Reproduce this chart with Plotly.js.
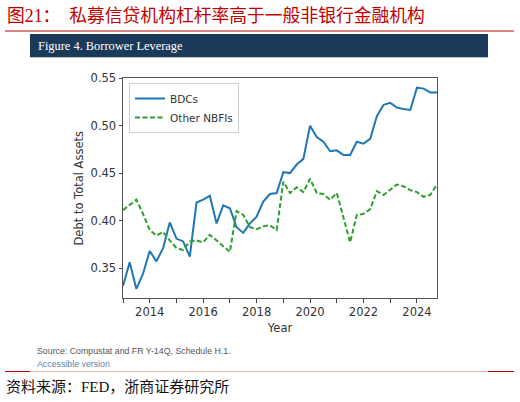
<!DOCTYPE html>
<html>
<head>
<meta charset="utf-8">
<script src="https://cdn.plot.ly/plotly-3.0.1.min.js"></script>
<style>
  html, body { margin: 0; padding: 0; background: #fff; }
  #chart { width: 520px; height: 402px; }
</style>
</head>
<body>
<div id="chart"></div>
<script>
// quarterly observations, decimal years
var quarters = [
  2013.00, 2013.25, 2013.50, 2013.75, 2014.00, 2014.25, 2014.50, 2014.75,
  2015.00, 2015.25, 2015.50, 2015.75, 2016.00, 2016.25, 2016.50, 2016.75,
  2017.00, 2017.25, 2017.50, 2017.75, 2018.00, 2018.25, 2018.50, 2018.75,
  2019.00, 2019.25, 2019.50, 2019.75, 2020.00, 2020.25, 2020.50, 2020.75,
  2021.00, 2021.25, 2021.50, 2021.75, 2022.00, 2022.25, 2022.50, 2022.75,
  2023.00, 2023.25, 2023.50, 2023.75, 2024.00, 2024.25, 2024.50, 2024.75
];

var bdcs = [
  0.331, 0.356, 0.328, 0.344, 0.368, 0.357, 0.371, 0.398,
  0.381, 0.378, 0.362, 0.419, 0.422, 0.426, 0.397, 0.416,
  0.413, 0.393, 0.387, 0.397, 0.404, 0.420, 0.428, 0.429,
  0.451, 0.450, 0.459, 0.465, 0.500, 0.488, 0.483, 0.473,
  0.474, 0.469, 0.469, 0.483, 0.481, 0.486, 0.510, 0.522,
  0.524, 0.519, 0.5175, 0.5165, 0.540, 0.539, 0.535, 0.535
];

var otherNbfis = [
  0.411, 0.417, 0.422, 0.407, 0.390, 0.384, 0.388, 0.379,
  0.371, 0.369, 0.378, 0.379, 0.377, 0.385, 0.379, 0.372,
  0.367, 0.410, 0.406, 0.393, 0.391, 0.394, 0.395, 0.390,
  0.441, 0.429, 0.435, 0.430, 0.444, 0.429, 0.428, 0.422,
  0.429, 0.403, 0.377, 0.406, 0.407, 0.412, 0.431, 0.427,
  0.433, 0.438, 0.436, 0.432, 0.430, 0.425, 0.427, 0.438
];

var yearTicks = [2014, 2016, 2018, 2020, 2022, 2024];
var yTicks = [0.35, 0.40, 0.45, 0.50, 0.55];

// plot box in pixels, used to place the decorations around it
var L = 123, R = 437, T = 78, B = 298;
function px(x) { return (x - L) / (R - L); }
function py(y) { return (B - y) / (B - T); }

var traces = [
  {
    x: quarters, y: bdcs, name: 'BDCs', mode: 'lines',
    line: { color: '#1f77b4', width: 2 }
  },
  {
    x: quarters, y: otherNbfis, name: 'Other NBFIs', mode: 'lines',
    line: { color: '#2ca02c', width: 2, dash: '5px,2.5px' }
  }
];

var tickFont = { family: 'DejaVu Sans', size: 11.5, color: '#333' };
var cjkSerif = 'Liberation Serif, Noto Sans CJK SC';

var layout = {
  width: 520, height: 402,
  margin: { l: L, r: 520 - R, t: T, b: 402 - B, pad: 0 },
  paper_bgcolor: '#fff', plot_bgcolor: '#fff',
  font: { family: 'DejaVu Sans', color: '#333' },
  showlegend: true,
  legend: {
    x: px(129), y: py(83), xanchor: 'left', yanchor: 'top',
    bgcolor: 'rgba(255,255,255,0.9)', bordercolor: '#d0d0d0', borderwidth: 1,
    font: { family: 'DejaVu Sans', size: 10.5, color: '#333' },
    tracegroupgap: 0
  },
  xaxis: {
    range: [2013, 2024.75],
    tickvals: yearTicks, ticktext: yearTicks.map(String),
    ticks: 'outside', ticklen: 3.5, tickcolor: '#444',
    minor: { dtick: 1, tick0: 2013, ticks: 'outside', ticklen: 3.5, tickcolor: '#444', showgrid: false },
    showgrid: false, zeroline: false,
    showline: true, mirror: true, linecolor: '#555', linewidth: 1,
    tickfont: tickFont,
    title: { text: 'Year', font: { family: 'DejaVu Sans', size: 11.5, color: '#333' }, standoff: 5 }
  },
  yaxis: {
    range: [0.3184, 0.5502],
    tickvals: yTicks, tickformat: '.2f',
    ticks: 'outside', ticklen: 3.5, tickcolor: '#444',
    showgrid: false, zeroline: false,
    showline: true, mirror: true, linecolor: '#555', linewidth: 1,
    tickfont: tickFont
  },
  shapes: [
    // red rule under the report title
    { type: 'line', xref: 'paper', yref: 'paper', x0: px(5), x1: px(514), y0: py(31), y1: py(31),
      line: { color: '#c00000', width: 1 } },
    // navy figure banner
    { type: 'rect', xref: 'paper', yref: 'paper', x0: px(30), x1: px(488), y0: py(57), y1: py(34),
      fillcolor: '#1b3a5a', line: { width: 0 } },
    { type: 'line', xref: 'paper', yref: 'paper', x0: px(30), x1: px(488), y0: py(57.5), y1: py(57.5),
      line: { color: '#b8c0c8', width: 1 } },
    // bottom rule
    { type: 'line', xref: 'paper', yref: 'paper', x0: px(30), x1: px(488), y0: py(371.5), y1: py(371.5),
      line: { color: '#f2b8b8', width: 1 } },
    { type: 'line', xref: 'paper', yref: 'paper', x0: px(5), x1: px(30), y0: py(371.5), y1: py(371.5),
      line: { color: '#c00000', width: 1 } },
    { type: 'line', xref: 'paper', yref: 'paper', x0: px(488), x1: px(514), y0: py(371.5), y1: py(371.5),
      line: { color: '#c00000', width: 1 } }
  ],
  annotations: [
    { text: 'Debt to Total Assets', xref: 'paper', yref: 'paper', textangle: -90,
      x: px(78.5), y: py(188), xanchor: 'center', yanchor: 'middle', showarrow: false,
      font: { family: 'DejaVu Sans', size: 11.5, color: '#333' } },
    { text: '图21：  私募信贷机构杠杆率高于一般非银行金融机构', xref: 'paper', yref: 'paper',
      x: px(5), y: py(16), xanchor: 'left', yanchor: 'middle', showarrow: false,
      font: { family: cjkSerif, size: 17.8, color: '#c00000' } },
    { text: 'Figure 4. Borrower Leverage', xref: 'paper', yref: 'paper',
      x: px(36), y: py(45.5), xanchor: 'left', yanchor: 'middle', showarrow: false,
      font: { family: 'Liberation Serif', size: 12.4, color: '#fff' } },
    { text: 'Source: Compustat and FR Y-14Q, Schedule H.1.', xref: 'paper', yref: 'paper',
      x: px(35), y: py(350.5), xanchor: 'left', yanchor: 'middle', showarrow: false,
      font: { family: 'Liberation Sans', size: 8.8, color: '#555' } },
    { text: 'Accessible version', xref: 'paper', yref: 'paper',
      x: px(35), y: py(363.5), xanchor: 'left', yanchor: 'middle', showarrow: false,
      font: { family: 'Liberation Sans', size: 8.8, color: '#5b82ad' } },
    { text: '资料来源：FED，浙商证券研究所', xref: 'paper', yref: 'paper',
      x: px(4), y: py(387), xanchor: 'left', yanchor: 'middle', showarrow: false,
      font: { family: cjkSerif, size: 15, color: '#111' } }
  ]
};

Plotly.newPlot('chart', traces, layout, { staticPlot: true });
</script>
</body>
</html>
